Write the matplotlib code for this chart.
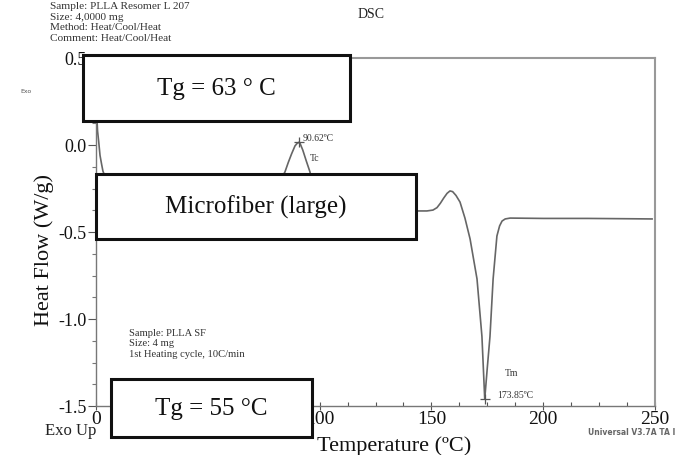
import matplotlib.pyplot as plt
import numpy as np
from matplotlib.patches import Rectangle
from matplotlib.ticker import AutoMinorLocator

plt.rcParams['font.family'] = ['Liberation Serif', 'DejaVu Serif']
plt.rcParams['axes.unicode_minus'] = False

W, H = 675, 456

# DSC trace (the part behind the boxes is guessed)
temp = [0.1, 0.3, 0.7, 1.2, 1.8, 2.5, 3.1, 4, 6, 10, 20, 30, 40, 50, 55, 60,
        63, 66, 70, 75, 80, 82.5, 84.5, 86, 87.5, 89, 90, 90.62, 91.3, 92.5,
        94, 95.7, 97, 100, 110, 120, 130, 140, 143, 148, 150.7, 152.5, 154,
        155.5, 157, 158.3, 159.5, 161, 162.8, 165, 167.3, 170.4, 172.6,
        173.85, 175.0, 176.2, 177.6, 179.3, 180.5, 181.6, 183, 185.2, 200,
        220, 240, 248.7]
heat_flow = [0.32, 0.18, 0.08, 0.02, -0.06, -0.11, -0.15, -0.18, -0.2, -0.21,
             -0.22, -0.225, -0.23, -0.235, -0.24, -0.26, -0.29, -0.31, -0.31,
             -0.30, -0.27, -0.2, -0.155, -0.10, -0.05, -0.005, 0.01, 0.015,
             0.008, -0.03, -0.09, -0.155, -0.25, -0.33, -0.36, -0.37, -0.375,
             -0.378, -0.379, -0.379, -0.374, -0.36, -0.335, -0.305, -0.278,
             -0.264, -0.268, -0.29, -0.328, -0.42, -0.54, -0.77, -1.1, -1.46,
             -1.28, -1.10, -0.77, -0.523, -0.465, -0.437, -0.425, -0.42,
             -0.422, -0.422, -0.424, -0.425]

peak_temp = [90.62, 173.85]
peak_flow = [0.015, -1.46]

xticks = [0, 50, 100, 150, 200, 250]
yticks = [0.5, 0.0, -0.5, -1.0, -1.5]


def px_box(x0, y0, x1, y1):
    # pixel box (top-left origin) -> figure fraction rect
    return (x0 / W, 1 - y1 / H), (x1 - x0) / W, (y1 - y0) / H


fig = plt.figure(figsize=(W / 100, H / 100), dpi=100)
ax = fig.add_axes([96 / W, 1 - 407 / H, 559 / W, 348 / H])

ax.plot(temp, heat_flow, color='#666666', lw=1.2)
ax.plot(peak_temp, peak_flow, '+', color='#555555', ms=7, mew=0.9)

ax.set_xlim(0, 250)
ax.set_ylim(-1.5, 0.5)
ax.set_xticks(xticks)
ax.set_yticks(yticks)
ax.set_yticklabels(['%.1f' % v for v in yticks])
ax.xaxis.set_minor_locator(AutoMinorLocator(4))
ax.yaxis.set_minor_locator(AutoMinorLocator(4))
ax.tick_params(axis='x', which='major', direction='inout', length=6, width=0.8,
               colors='#555555', labelcolor='#111111', labelsize=14, pad=0)
ax.tick_params(axis='x', which='minor', direction='in', length=3, width=0.8,
               colors='#555555')
ax.tick_params(axis='y', which='major', direction='out', length=6, width=0.8,
               colors='#555555', labelcolor='#111111', labelsize=13, pad=1)
ax.tick_params(axis='y', which='minor', direction='out', length=3, width=0.8,
               colors='#777777')
for s in ['top', 'right']:
    ax.spines[s].set_color('#999999')
    ax.spines[s].set_linewidth(1.5)
for s in ['left', 'bottom']:
    ax.spines[s].set_color('#777777')
    ax.spines[s].set_linewidth(1.0)

fig.text(44 / W, 1 - 250 / H, 'Heat Flow (W/g)', fontsize=16, rotation=90,
         ha='center', va='center', color='#111111')
fig.text(394 / W, 1 - 446 / H, 'Temperature (ºC)', fontsize=16,
         ha='center', va='center', color='#111111')

# instrument text
fig.text(50 / W, 1 - 2 / H,
         'Sample: PLLA Resomer L 207\nSize: 4,0000 mg\n'
         'Method: Heat/Cool/Heat\nComment: Heat/Cool/Heat',
         fontsize=8.1, va='top', ha='left', color='#333333', linespacing=1.25)
fig.text(371 / W, 1 - 14 / H, 'DSC', fontsize=10, ha='center', va='center',
         color='#222222')
fig.text(20 / W, 1 - 92 / H, 'Exo', fontsize=4.5, family='DejaVu Sans',
         ha='left', va='center', color='#555555')
ax.text(92.5, 0.045, '90.62ºC', fontsize=7, color='#333333', ha='left',
        va='center')
ax.text(95.5, -0.07, 'Tc', fontsize=7, color='#333333', ha='left', va='center')
ax.text(183, -1.31, 'Tm', fontsize=7, color='#333333', ha='left', va='center')
ax.text(179.5, -1.435, '173.85ºC', fontsize=7, color='#333333', ha='left',
        va='center')
fig.text(129 / W, 1 - 329 / H,
         'Sample: PLLA SF\nSize: 4 mg\n1st Heating cycle, 10C/min',
         fontsize=7.6, va='top', ha='left', color='#333333', linespacing=1.2)
fig.text(45 / W, 1 - 431 / H, 'Exo Up', fontsize=12, ha='left', va='center',
         color='#222222')
fig.text(588 / W, 1 - 433 / H, 'Universal V3.7A TA I', fontsize=5.5,
         family='DejaVu Sans', weight='bold', ha='left', va='center',
         color='#666666')

# overlaid label boxes
boxes = [((83, 56, 350, 122), 'Tg = 63 ° C'),
         ((96, 175, 416, 240), 'Microfiber (large)'),
         ((111, 380, 312, 438), 'Tg = 55 °C')]
for (x0, y0, x1, y1), label in boxes:
    xy, bw, bh = px_box(x0, y0, x1, y1)
    fig.add_artist(Rectangle(xy, bw, bh, transform=fig.transFigure,
                             facecolor='white', edgecolor='#111111', lw=2.2,
                             zorder=5))
    fig.text(xy[0] + bw / 2, xy[1] + bh / 2, label, fontsize=18,
             ha='center', va='center', color='#111111', zorder=6)

fig.savefig('out.png', dpi=100)
